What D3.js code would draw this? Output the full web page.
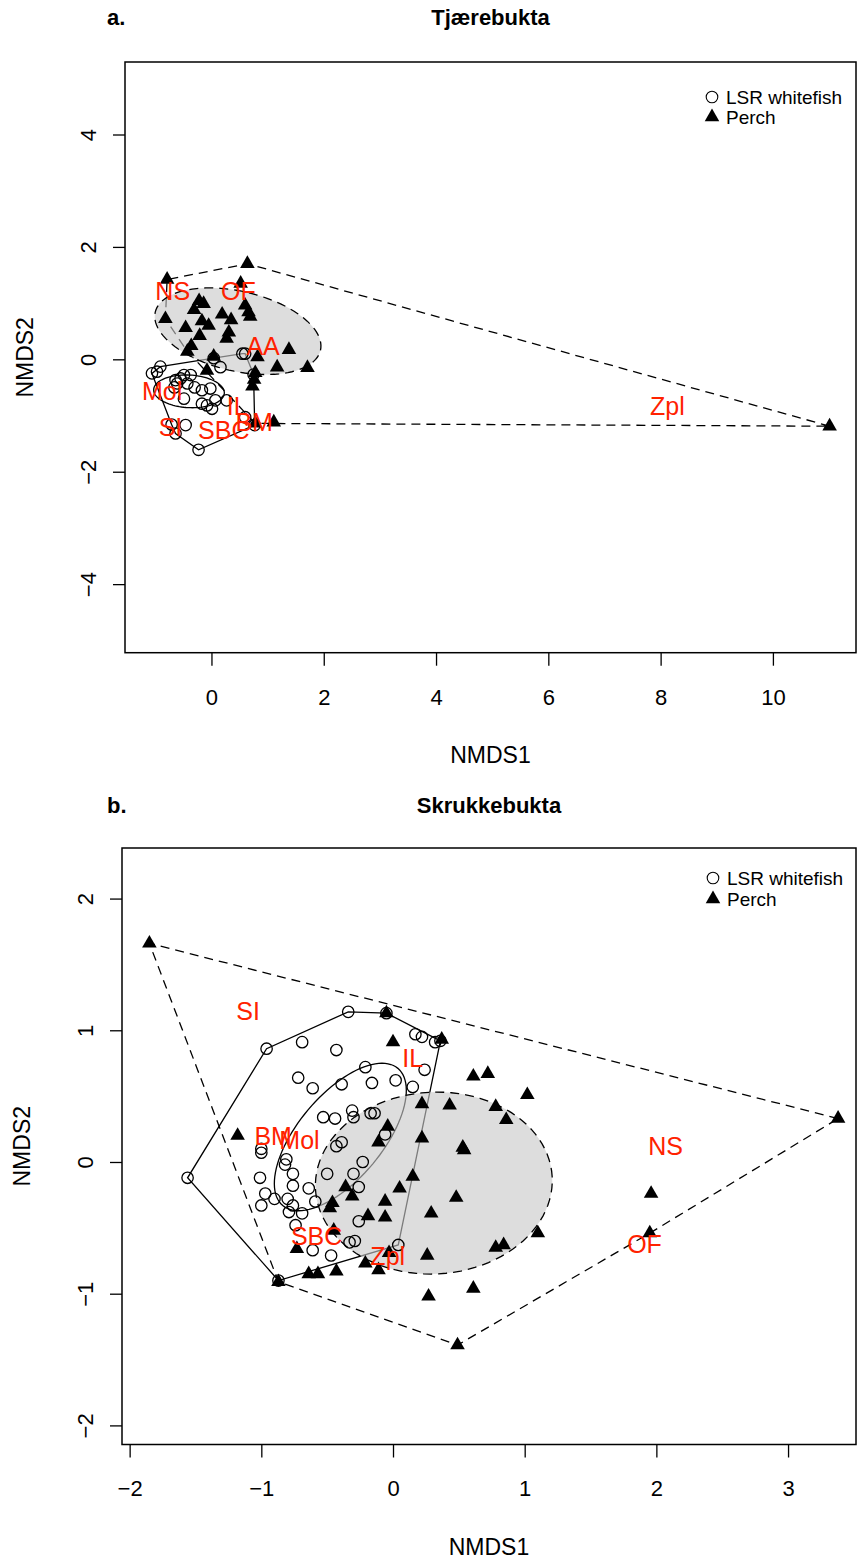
<!DOCTYPE html>
<html>
<head>
<meta charset="utf-8">
<script src="https://cdn.jsdelivr.net/npm/d3@7"></script>
<style>
  body { margin: 0; background: #fff; }
  text { font-family: "Liberation Sans", Arial, Helvetica, sans-serif; }
</style>
</head>
<body>
<svg id="chart" width="857" height="1559"></svg>
<script>
// ── Data: NMDS scores ──────────────────────────────────
// Tjærebukta (a)
const whitefishA = [
  [-1.06,-0.25],[-0.91,-0.13],[-0.97,-0.22],[-0.64,-0.37],[-0.55,-0.34],[-0.49,-0.28],
  [-0.37,-0.28],[-0.43,-0.43],[-0.61,-0.43],[-0.49,-0.70],[-0.17,-0.55],[-0.02,-0.52],
  [-0.17,-0.79],[-0.08,-0.82],[0.01,-0.88],[0.07,-0.73],[0.16,-0.14],[0.27,-0.73],
  [0.55,0.10],[0.60,0.10],[0.60,-1.03],[-0.46,-1.17],[-0.71,-1.16],[-0.64,-1.32],
  [-0.23,-1.61],[0.75,-0.27],[0.77,-1.17],[0.04,0.02],[-0.30,-0.50],[-0.66,-0.50]
];
const perchA = [
  [-0.79,1.42],[0.64,1.70],[0.52,1.35],[-0.22,1.04],[-0.14,0.99],[-0.31,0.88],
  [0.60,0.96],[0.66,0.84],[0.69,0.76],[-0.82,0.72],[-0.46,0.56],[-0.17,0.68],
  [-0.05,0.60],[0.19,0.80],[0.35,0.70],[0.31,0.48],[0.27,0.37],[-0.21,0.42],
  [-0.36,0.24],[-0.43,0.14],[0.04,0.05],[0.82,0.04],[1.38,0.17],[1.17,-0.14],
  [1.71,-0.15],[-0.08,-0.20],[0.78,-0.24],[0.76,-0.36],[0.73,-0.48],[0.78,-1.14],
  [1.11,-1.12],[11.01,-1.19]
];
const preyA = ['NS','OF','AA','Mol','IL','BM','SI','SBC','Zpl'];
const preyPosA = [
  [-0.69,1.22],[0.48,1.22],[0.92,0.24],[-0.88,-0.56],[0.46,-0.83],
  [0.76,-1.11],[-0.73,-1.21],[0.22,-1.26],[8.12,-0.83]
];
// ellipses: [cx, cy, semi-major, semi-minor, angle deg]
const ellWhitefishA = [-0.40,-0.57,0.63,0.29,-3];
const ellPerchA     = [0.47,0.50,1.51,0.71,-13];

// Skrukkebukta (b)
const whitefishB = [
  [-0.34,1.14],[-0.05,1.13],[0.17,0.97],[0.22,0.95],[0.32,0.91],[0.36,0.92],
  [-0.96,0.86],[-0.69,0.91],[-0.43,0.85],[0.24,0.70],[0.15,0.57],[0.02,0.62],
  [-0.21,0.72],[-0.16,0.60],[-0.72,0.64],[-0.61,0.56],[-0.39,0.59],[-0.53,0.34],
  [-0.44,0.33],[-0.31,0.39],[-0.30,0.34],[-0.17,0.37],[-0.14,0.37],[-0.06,0.21],
  [-1.00,0.10],[-1.00,0.07],[-0.43,0.12],[-0.39,0.15],[-0.81,0.02],[-0.82,-0.02],
  [-0.76,-0.09],[-0.23,0.00],[-1.01,-0.12],[-1.56,-0.12],[-0.76,-0.18],[-0.64,-0.20],
  [-0.50,-0.09],[-0.30,-0.09],[-0.26,-0.19],[-0.97,-0.24],[-0.90,-0.28],[-1.00,-0.33],
  [-0.80,-0.28],[-0.76,-0.33],[-0.79,-0.38],[-0.69,-0.39],[-0.59,-0.30],[-0.74,-0.48],
  [-0.26,-0.45],[-0.33,-0.61],[-0.29,-0.60],[0.04,-0.63],[-0.61,-0.67],[-0.47,-0.71],
  [-0.87,-0.90]
];
const perchB = [
  [-1.85,1.66],[3.38,0.33],[0.49,-1.39],[-0.87,-0.91],[-1.18,0.20],[-0.05,1.13],
  [0.00,0.91],[0.37,0.93],[0.61,0.65],[0.72,0.67],[1.02,0.51],[0.22,0.44],
  [0.43,0.43],[0.78,0.42],[0.86,0.32],[-0.04,0.27],[-0.11,0.15],[0.22,0.18],
  [0.53,0.11],[0.54,0.09],[0.15,-0.11],[0.05,-0.20],[0.48,-0.27],[-0.36,-0.19],
  [-0.31,-0.26],[-0.46,-0.31],[-0.48,-0.35],[-0.06,-0.30],[-0.19,-0.41],[-0.06,-0.42],
  [0.29,-0.39],[1.10,-0.54],[0.78,-0.65],[0.84,-0.63],[-0.45,-0.52],[-0.73,-0.66],
  [-0.03,-0.69],[0.26,-0.71],[-0.21,-0.77],[-0.11,-0.82],[-0.43,-0.83],[-0.64,-0.85],
  [-0.57,-0.85],[0.27,-1.02],[0.61,-0.96],[1.96,-0.24],[1.95,-0.54]
];
const preyB = ['SI','IL','BM','Mol','SBC','Zpl','NS','OF'];
const preyPosB = [
  [-1.10,1.15],[0.15,0.79],[-0.91,0.20],[-0.71,0.17],[-0.58,-0.56],
  [-0.04,-0.71],[2.07,0.12],[1.91,-0.62]
];
const ellWhitefishB = [-0.40,0.19,0.68,0.32,50];
const ellPerchB     = [0.31,-0.16,0.90,0.69,3];

const xTicksA = [0, 2, 4, 6, 8, 10];
const yTicksA = [-4, -2, 0, 2, 4];
const xTicksB = [-2, -1, 0, 1, 2, 3];
const yTicksB = [-2, -1, 0, 1, 2];
const legendLabels = ['LSR whitefish', 'Perch'];

// ── Layout ───────────────────────────────
const svg = d3.select('#chart');
svg.append('rect').attr('width', 857).attr('height', 1559).attr('fill', '#fff');

const RED = '#ff2200';
const triangle = d3.symbol().type(d3.symbolTriangle).size(92);

function ellipsePts(e) {
  const [cx, cy, a, b, deg] = e;
  const th = deg * Math.PI / 180;
  return d3.range(0, 100).map(i => {
    const t = i / 100 * 2 * Math.PI;
    const dx = a * Math.cos(t), dy = b * Math.sin(t);
    return [cx + dx * Math.cos(th) - dy * Math.sin(th),
            cy + dx * Math.sin(th) + dy * Math.cos(th)];
  });
}

function drawPanel(p) {
  const x = d3.scaleLinear().domain(p.xDom).range([p.box.l, p.box.r]);
  const y = d3.scaleLinear().domain(p.yDom).range([p.box.b, p.box.t]);
  const g = svg.append('g');

  g.append('clipPath').attr('id', 'clip-' + p.tag)
    .append('rect')
    .attr('x', p.box.l).attr('y', p.box.t)
    .attr('width', p.box.r - p.box.l).attr('height', p.box.b - p.box.t);
  const plot = g.append('g').attr('clip-path', `url(#clip-${p.tag})`);

  const line = d3.line().x(d => x(d[0])).y(d => y(d[1])).curve(d3.curveLinearClosed);
  const hull = pts => d3.polygonHull(pts.map(d => [x(d[0]), y(d[1])]));

  // whitefish hull + ellipse (solid)
  plot.append('path').attr('d', 'M' + hull(p.whitefish).join('L') + 'Z')
    .attr('fill', 'none').attr('stroke', '#000').attr('stroke-width', 1.3);
  plot.append('path').attr('d', line(ellipsePts(p.ellW)))
    .attr('fill', 'none').attr('stroke', '#000').attr('stroke-width', 1.3);

  // perch hull (dashed)
  plot.append('path').attr('d', 'M' + hull(p.perch).join('L') + 'Z')
    .attr('fill', 'none').attr('stroke', '#000').attr('stroke-width', 1.3)
    .attr('stroke-dasharray', '9,6');

  // perch ellipse, translucent grey fill
  plot.append('path').attr('d', line(ellipsePts(p.ellP)))
    .attr('fill', 'rgb(200,200,200)').attr('fill-opacity', 0.62)
    .attr('stroke', '#000').attr('stroke-width', 1.3)
    .attr('stroke-dasharray', '9,6');

  // points
  plot.selectAll('circle.wf').data(p.whitefish).join('circle')
    .attr('class', 'wf')
    .attr('cx', d => x(d[0])).attr('cy', d => y(d[1])).attr('r', 5.7)
    .attr('fill', 'none').attr('stroke', '#000').attr('stroke-width', 1.3);
  plot.selectAll('path.pe').data(p.perch).join('path')
    .attr('class', 'pe')
    .attr('d', triangle)
    .attr('transform', d => `translate(${x(d[0])},${y(d[1])})`)
    .attr('fill', '#000');

  // prey labels
  plot.selectAll('text.prey').data(p.prey).join('text')
    .attr('class', 'prey')
    .attr('x', (d, i) => x(p.preyPos[i][0]))
    .attr('y', (d, i) => y(p.preyPos[i][1]))
    .attr('dy', '0.36em')
    .attr('text-anchor', 'middle')
    .attr('font-size', 25)
    .attr('fill', RED)
    .text(d => d);

  // legend
  const lg = g.append('g');
  lg.append('circle').attr('cx', p.legend.x).attr('cy', p.legend.y1).attr('r', 5.8)
    .attr('fill', 'none').attr('stroke', '#000').attr('stroke-width', 1.1);
  lg.append('path').attr('d', triangle)
    .attr('transform', `translate(${p.legend.x},${p.legend.y2})`).attr('fill', '#000');
  lg.selectAll('text').data(legendLabels).join('text')
    .attr('x', p.legend.x + 14)
    .attr('y', (d, i) => i === 0 ? p.legend.y1 : p.legend.y2)
    .attr('dy', '0.36em')
    .attr('font-size', 19)
    .text(d => d);

  // box
  g.append('rect')
    .attr('x', p.box.l).attr('y', p.box.t)
    .attr('width', p.box.r - p.box.l).attr('height', p.box.b - p.box.t)
    .attr('fill', 'none').attr('stroke', '#000').attr('stroke-width', 1.5);

  // axes
  const ax = g.append('g').attr('transform', `translate(0,${p.box.b})`)
    .call(d3.axisBottom(x).tickValues(p.xTicks).tickSize(13).tickFormat(d3.format('d')));
  ax.select('.domain').remove();
  ax.attr('font-family', null);
  ax.selectAll('line').attr('stroke-width', 1.3);
  ax.selectAll('text').attr('y', 44).attr('dy', '0.36em')
    .attr('font-size', 22).attr('fill', '#000');

  const ay = g.append('g').attr('transform', `translate(${p.box.l},0)`)
    .call(d3.axisLeft(y).tickValues(p.yTicks).tickSize(12).tickFormat(d3.format('d')));
  ay.select('.domain').remove();
  ay.attr('font-family', null);
  ay.selectAll('line').attr('stroke-width', 1.3);
  ay.selectAll('text').attr('x', null).attr('dy', '0.36em')
    .attr('transform', 'translate(-37,0) rotate(-90)')
    .attr('text-anchor', 'middle')
    .attr('font-size', 22).attr('fill', '#000');

  // axis titles
  g.append('text')
    .attr('x', (p.box.l + p.box.r) / 2).attr('y', p.box.b + 102).attr('dy', '0.36em')
    .attr('text-anchor', 'middle').attr('font-size', 23).text('NMDS1');
  g.append('text')
    .attr('transform', `translate(${p.box.l - 100},${(p.box.t + p.box.b) / 2}) rotate(-90)`)
    .attr('dy', '0.36em')
    .attr('text-anchor', 'middle').attr('font-size', 23).text('NMDS2');

  // titles
  g.append('text').attr('x', 107).attr('y', p.titleY).attr('dy', '0.36em')
    .attr('font-size', 22).attr('font-weight', 'bold').text(p.tag + '.');
  g.append('text').attr('x', (p.box.l + p.box.r) / 2).attr('y', p.titleY).attr('dy', '0.36em')
    .attr('text-anchor', 'middle')
    .attr('font-size', 22).attr('font-weight', 'bold').text(p.title);
}

drawPanel({
  tag: 'a', title: 'Tjærebukta', titleY: 17,
  box: { l: 125, t: 62, r: 856, b: 652.7 },
  xDom: [-1.54, 11.48], yDom: [-5.22, 5.29],
  xTicks: xTicksA, yTicks: yTicksA,
  whitefish: whitefishA, perch: perchA,
  prey: preyA, preyPos: preyPosA,
  ellW: ellWhitefishA, ellP: ellPerchA,
  legend: { x: 712, y1: 97, y2: 117 }
});

drawPanel({
  tag: 'b', title: 'Skrukkebukta', titleY: 805,
  box: { l: 122, t: 848, r: 856, b: 1444.5 },
  xDom: [-2.058, 3.516], yDom: [-2.145, 2.384],
  xTicks: xTicksB, yTicks: yTicksB,
  whitefish: whitefishB, perch: perchB,
  prey: preyB, preyPos: preyPosB,
  ellW: ellWhitefishB, ellP: ellPerchB,
  legend: { x: 713, y1: 878, y2: 899 }
});
</script>
</body>
</html>
